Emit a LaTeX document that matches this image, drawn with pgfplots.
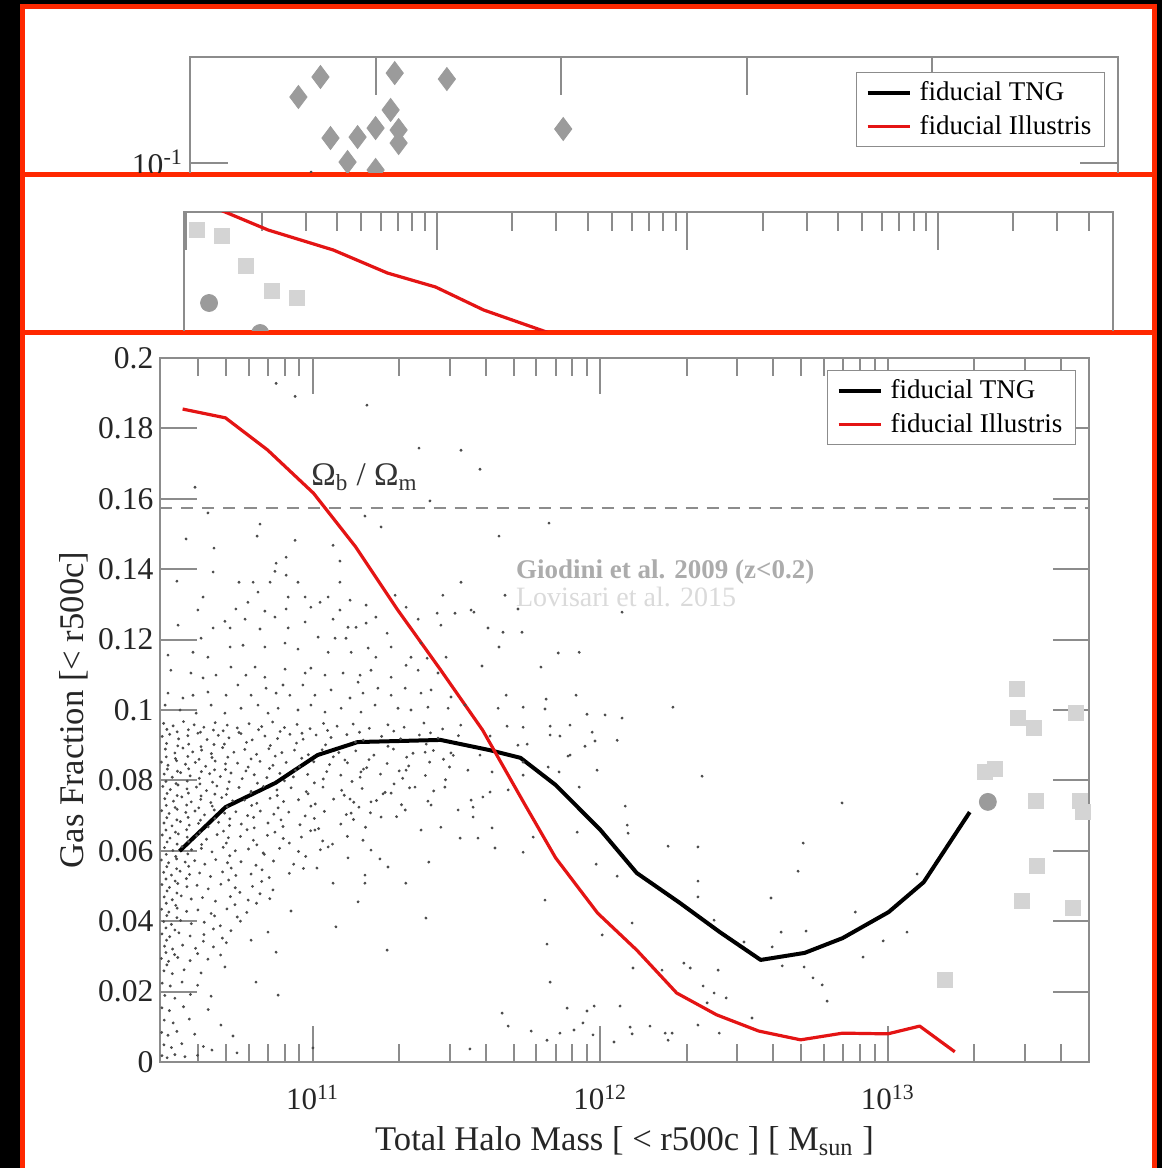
\documentclass[border=0pt]{standalone}
\usepackage{pgfplots}
\pgfplotsset{compat=1.18}
\usepackage{fontspec}
\setmainfont{Liberation Serif}
\definecolor{framered}{RGB}{255,40,0}
\definecolor{axisgray}{RGB}{140,140,140}
\definecolor{markgray}{RGB}{155,155,155}
\definecolor{sqgray}{RGB}{212,212,212}
\definecolor{giodini}{RGB}{172,172,172}
\definecolor{lovisari}{RGB}{218,218,218}
\definecolor{illred}{RGB}{228,20,20}
\pgfplotsset{
  refstyle/.style={
    scale only axis, anchor=north west,
    axis line style={axisgray, line width=1pt},
    tick style={axisgray, line width=1pt},
    tick label style={font=\fontsize{15.8}{18}\selectfont, text=black!85},
    label style={font=\fontsize{17.3}{20}\selectfont, text=black!85},
    legend style={draw=axisgray, line width=0.6pt, font=\fontsize{13.5}{17}\selectfont,
      inner xsep=4.5pt, inner ysep=2.5pt, row sep=2pt, cells={anchor=west}, text=black},
    legend image code/.code={\draw[##1] (0pt,0pt) -- (21pt,0pt); \path (23pt,0pt);},
  }
}
\begin{document}
\begin{tikzpicture}
\fill[black] (0pt,0pt) rectangle (581pt,-584pt);
\fill[framered] (10pt,-2pt) rectangle (578.5pt,-584pt);
\fill[white] (12.5pt,-4.5pt) rectangle (576pt,-86pt);
\fill[white] (12.5pt,-88.5pt) rectangle (576pt,-165pt);
\fill[white] (12.5pt,-167.5pt) rectangle (576pt,-584pt);

% ---------------- panel 1 ----------------
\begin{scope}
\clip (12.5pt,-4.5pt) rectangle (576pt,-86pt);
\begin{axis}[refstyle,
  at={(95pt,-28.5pt)}, width=464pt, height=178pt,
  xmin=10, xmax=15, ymode=log, ymin=0.01, ymax=0.2655,
  xtick={11,12,13,14}, xticklabels={},
  ytick={0.1}, yticklabels={10\textsuperscript{-1}}, yminorticks=false,
  major tick length=19pt,
  legend style={at={(0.986,0.958)}, anchor=north east},
]
\addplot[markgray, only marks, mark=diamond*, mark size=5.75pt, forget plot]
 coordinates {(10.584,0.1837)(10.703,0.2208)(11.103,0.2290)(11.384,0.2168)(11.081,0.1630)(11.000,0.1380)(10.903,0.1270)(10.757,0.1259)(11.124,0.1355)(11.124,0.1202)(10.849,0.1009)(11.000,0.0938)(12.011,0.1368)};
\addplot[black!70, only marks, mark=*, mark size=0.5pt, forget plot] coordinates {(10.652,0.0920)};
\addplot[illred, line width=1.6pt, forget plot] coordinates {(10.959,0.0871)(11.000,0.0946)(11.043,0.0871)};
\addlegendimage{black, line width=2pt}
\addlegendentry{fiducial TNG}
\addlegendimage{illred, line width=1.6pt}
\addlegendentry{fiducial Illustris}
\end{axis}
\end{scope}

% ---------------- panel 2 ----------------
\begin{scope}
\clip (12.5pt,-88.5pt) rectangle (576pt,-165pt);
\begin{axis}[refstyle,
  at={(92pt,-106pt)}, width=464.5pt, height=82pt,
  xmin=9.991, xmax=13.699, ymin=0, ymax=0.3814,
  xtick={10,11,12,13}, xticklabels={},
  minor xtick={10.301,10.477,10.602,10.699,10.778,10.845,10.903,10.954,11.301,11.477,11.602,11.699,11.778,11.845,11.903,11.954,12.301,12.477,12.602,12.699,12.778,12.845,12.903,12.954,13.301,13.477,13.602},
  ytick=\empty, minor ytick={0.2,0.3},
  major tick length=19pt, minor tick length=9.5pt,
]
\addplot[sqgray, only marks, mark=square*, mark size=3.75pt]
 coordinates {(10.043,0.3395)(10.143,0.3256)(10.239,0.2558)(10.343,0.1977)(10.443,0.1814)};
\addplot[markgray, only marks, mark=*, mark size=4.25pt]
 coordinates {(10.091,0.1698)(10.295,0.1000)};
\addplot[illred, line width=1.6pt] coordinates {(10.067,0.4020)(10.155,0.3814)(10.327,0.3395)(10.587,0.2930)(10.803,0.2395)(10.995,0.2070)(11.187,0.1535)(11.415,0.1070)(11.575,0.0744)};
\end{axis}
\end{scope}

% ---------------- panel 3 ----------------
\begin{scope}
\clip (12.5pt,-167.5pt) rectangle (576pt,-584pt);
\begin{axis}[refstyle,
  at={(80.25pt,-179pt)}, width=464pt, height=352pt,
  xmin=10.471, xmax=13.698, ymin=0, ymax=0.2,
  xtick={11,12,13}, xticklabels={10\textsuperscript{11},10\textsuperscript{12},10\textsuperscript{13}},
  x tick label style={yshift=-8pt, font=\fontsize{15.5}{18}\selectfont},
  minor xtick={10.602,10.699,10.778,10.845,10.903,10.954,11.301,11.477,11.602,11.699,11.778,11.845,11.903,11.954,12.301,12.477,12.602,12.699,12.778,12.845,12.903,12.954,13.301,13.477,13.602},
  ytick={0,0.02,0.04,0.06,0.08,0.1,0.12,0.14,0.16,0.18,0.2},
  yticklabels={0,0.02,0.04,0.06,0.08,0.1,0.12,0.14,0.16,0.18,0.2},
  major tick length=18pt, minor tick length=9pt,
  xlabel={Total Halo Mass [ < r500c ] [ M\textsubscript{sun} ]},
  ylabel={Gas Fraction [< r500c]},
  x label style={at={(axis description cs:0.5,-0.125)}, anchor=base},
  y label style={at={(axis description cs:-0.083,0.5)}, anchor=base},
  legend style={at={(0.9865,0.983)}, anchor=north east},
]
% simulated haloes (small dots)
\addplot[black!70, only marks, mark=*, mark size=0.5pt, forget plot] coordinates {
(10.873,0.1928)(10.939,0.1891)(11.189,0.1866)(11.370,0.1744)(11.516,0.1738)(10.591,0.1633)(11.408,0.1594)(10.636,0.1560)(10.817,0.1528)(11.182,0.1551)(11.238,0.1520)(10.560,0.1486)(10.807,0.1494)(10.657,0.1460)(10.939,0.1482)(11.071,0.1468)(10.908,0.1434)(10.873,0.1417)(11.095,0.1423)(10.654,0.1392)(10.869,0.1394)(10.528,0.1366)(10.744,0.1363)(10.793,0.1363)(10.852,0.1363)(10.908,0.1383)(10.949,0.1363)(11.095,0.1363)(11.516,0.1363)(11.453,0.1326)(10.619,0.1321)(10.810,0.1335)(10.775,0.1306)(10.915,0.1321)(10.974,0.1321)(11.026,0.1306)(11.054,0.1321)(11.130,0.1312)(11.287,0.1326)
(10.601,0.1284)(10.733,0.1287)(10.834,0.1281)(10.869,0.1264)(10.908,0.1287)(10.994,0.1292)(11.095,0.1284)(11.186,0.1298)(11.220,0.1264)(11.325,0.1292)(11.367,0.1258)(11.433,0.1275)(11.495,0.1275)(11.551,0.1284)(10.695,0.1252)(10.765,0.1258)(10.974,0.1250)(11.071,0.1258)(11.123,0.1235)(11.151,0.1235)(11.186,0.1247)(11.446,0.1241)(10.532,0.1241)(10.612,0.1204)(10.654,0.1233)(10.713,0.1233)(10.817,0.1230)(10.915,0.1233)(11.019,0.1207)(11.078,0.1204)(11.116,0.1204)(11.259,0.1218)(11.377,0.1190)
(10.497,0.1156)(10.584,0.1164)(10.636,0.1150)(10.713,0.1179)(10.758,0.1184)(10.834,0.1179)(10.904,0.1190)(10.949,0.1173)(11.054,0.1164)(11.134,0.1164)(11.193,0.1176)(11.220,0.1150)(11.273,0.1179)(11.342,0.1150)(11.398,0.1147)(11.464,0.1150)
(10.507,0.1113)(10.577,0.1105)(10.619,0.1091)(10.664,0.1099)(10.716,0.1122)(10.768,0.1099)(10.800,0.1122)(10.834,0.1093)(10.904,0.1116)(10.974,0.1105)(10.994,0.1119)(11.043,0.1099)(11.106,0.1105)(11.165,0.1099)(11.203,0.1113)(11.273,0.1093)(11.325,0.1127)(11.367,0.1113)(11.436,0.1105)
(10.497,0.1048)(10.549,0.1034)(10.584,0.1042)(10.636,0.1051)(10.699,0.1042)(10.740,0.1071)(10.786,0.1042)(10.838,0.1062)(10.873,0.1048)(10.897,0.1071)(10.921,0.1042)(10.966,0.1071)(11.008,0.1042)(11.064,0.1057)(11.130,0.1034)(11.158,0.1079)(11.175,0.1048)(11.227,0.1062)(11.273,0.1042)(11.322,0.1062)(11.377,0.1048)(11.412,0.1057)(11.481,0.1037)
(10.487,0.1014)(10.539,0.1000)(10.595,0.0991)(10.647,0.1014)(10.695,0.0991)(10.751,0.1005)(10.810,0.1014)(10.845,0.0991)(10.880,0.1005)(10.949,0.1000)(10.994,0.1014)(11.043,0.0994)(11.099,0.1005)(11.168,0.0994)(11.217,0.1014)(11.297,0.1005)(11.342,0.1000)(11.401,0.1008)(11.471,0.1005)(11.530,0.1014)
(11.582,0.1684)(11.822,0.1531)(11.648,0.1494)(11.669,0.1326)(11.714,0.1287)(12.076,0.1278)(11.561,0.1278)(11.610,0.1233)(11.662,0.1221)(11.728,0.1221)(11.648,0.1179)(11.854,0.1162)(11.927,0.1164)(11.589,0.1125)(11.794,0.1122)(11.673,0.1042)(11.812,0.1031)(11.916,0.1042)(11.732,0.1008)(11.808,0.1003)(12.253,0.1008)(11.645,0.1005)(11.954,0.0988)(12.017,0.0986)(12.076,0.0977)
(12.354,0.0812)(12.841,0.0736)(12.087,0.0727)(11.927,0.0781)(11.989,0.0829)(11.857,0.0824)(11.732,0.0815)(11.895,0.0872)(12.094,0.0673)(12.097,0.0650)(11.920,0.0653)(11.767,0.0639)(11.732,0.0596)(11.634,0.0608)(11.575,0.0636)(11.624,0.0665)(12.236,0.0613)(12.340,0.0611)(12.706,0.0622)(12.688,0.0542)(11.986,0.0562)(12.059,0.0528)(12.340,0.0514)(12.340,0.0469)(12.594,0.0466)(13.102,0.0534)(12.887,0.0426)(11.808,0.0460)(12.111,0.0395)(12.396,0.0403)(12.629,0.0369)(12.716,0.0372)(13.067,0.0369)(12.984,0.0344)(12.500,0.0341)(12.598,0.0327)(11.815,0.0335)(12.007,0.0361)(12.914,0.0298)(12.633,0.0273)(12.709,0.0270)(12.291,0.0281)(12.313,0.0267)(12.410,0.0261)(12.114,0.0267)(12.215,0.0261)(12.740,0.0239)(12.772,0.0219)(12.789,0.0173)(12.358,0.0216)(12.396,0.0196)(12.438,0.0182)(12.372,0.0168)(11.826,0.0227)(11.885,0.0153)(11.979,0.0159)(11.954,0.0145)(12.069,0.0159)(11.659,0.0139)(11.940,0.0111)(12.104,0.0099)(12.173,0.0102)(12.340,0.0105)(12.528,0.0125)(11.680,0.0102)(11.760,0.0088)(11.860,0.0082)(11.909,0.0091)(11.975,0.0077)(12.111,0.0080)(12.226,0.0082)(12.250,0.0082)(12.414,0.0082)(11.815,0.0062)(12.048,0.0057)(12.236,0.0062)
(11.592,0.0753)(11.617,0.0767)(11.558,0.0724)(11.676,0.0954)(11.732,0.0951)(11.826,0.0954)(11.895,0.0957)(11.826,0.0929)(11.860,0.0926)(11.972,0.0937)(11.982,0.0912)(11.947,0.0897)(12.059,0.0914)(11.714,0.0900)(11.746,0.0903)(11.617,0.0926)(11.888,0.0869)(11.582,0.0872)(11.819,0.0838)(11.732,0.0852)(11.680,0.0773)(11.624,0.0824)(11.558,0.0696)
(10.482,0.0962)(10.515,0.0955)(10.551,0.0967)(10.588,0.0958)(10.622,0.0951)(10.661,0.0964)(10.703,0.0957)(10.738,0.0949)(10.779,0.0961)(10.823,0.0953)(10.861,0.0966)(10.902,0.0950)(10.946,0.0959)(10.991,0.0947)(11.038,0.0962)(11.085,0.0954)(11.141,0.0960)(11.197,0.0948)(11.262,0.0958)(11.318,0.0951)(11.387,0.0963)(11.452,0.0946)(11.515,0.0957)
(10.477,0.0925)(10.503,0.0931)(10.534,0.0918)(10.566,0.0927)(10.601,0.0934)(10.633,0.0916)(10.672,0.0928)(10.709,0.0921)(10.751,0.0933)(10.790,0.0915)(10.834,0.0926)(10.878,0.0919)(10.921,0.0931)(10.967,0.0917)(11.012,0.0929)(11.064,0.0922)(11.119,0.0930)(11.176,0.0914)(11.240,0.0925)(11.306,0.0918)(11.371,0.0929)(11.436,0.0920)(11.507,0.0927)
(10.488,0.0889)(10.521,0.0878)(10.549,0.0892)(10.583,0.0881)(10.614,0.0886)(10.648,0.0876)(10.687,0.0893)(10.726,0.0880)(10.764,0.0888)(10.805,0.0874)(10.848,0.0890)(10.893,0.0879)(10.937,0.0886)(10.985,0.0873)(11.033,0.0887)(11.091,0.0879)(11.150,0.0884)(11.213,0.0872)(11.281,0.0889)(11.349,0.0877)(11.420,0.0885)(11.489,0.0871)
(10.474,0.0852)(10.497,0.0843)(10.527,0.0856)(10.558,0.0846)(10.592,0.0851)(10.628,0.0840)(10.661,0.0855)(10.697,0.0847)(10.739,0.0849)(10.776,0.0838)(10.817,0.0854)(10.862,0.0843)(10.908,0.0851)(10.954,0.0839)(11.004,0.0853)(11.059,0.0845)(11.121,0.0850)(11.188,0.0836)(11.259,0.0848)(11.334,0.0841)(11.407,0.0852)(11.476,0.0838)
(10.484,0.0818)(10.512,0.0809)(10.541,0.0822)(10.574,0.0813)(10.606,0.0806)(10.642,0.0819)(10.679,0.0811)(10.716,0.0821)(10.755,0.0805)(10.797,0.0816)(10.841,0.0808)(10.886,0.0820)(10.933,0.0810)(10.983,0.0817)(11.037,0.0804)(11.098,0.0815)(11.165,0.0809)(11.236,0.0818)(11.313,0.0806)(11.392,0.0814)(11.462,0.0802)
(10.479,0.0783)(10.505,0.0774)(10.532,0.0787)(10.563,0.0776)(10.596,0.0781)(10.631,0.0771)(10.667,0.0784)(10.704,0.0776)(10.744,0.0780)(10.786,0.0769)(10.829,0.0783)(10.876,0.0773)(10.925,0.0779)(10.978,0.0768)(11.036,0.0781)(11.101,0.0772)(11.172,0.0777)(11.252,0.0766)(11.337,0.0779)(11.421,0.0770)
(10.486,0.0748)(10.516,0.0741)(10.545,0.0753)(10.578,0.0739)(10.611,0.0746)(10.646,0.0737)(10.684,0.0751)(10.722,0.0742)(10.763,0.0744)(10.806,0.0735)(10.852,0.0749)(10.899,0.0740)(10.951,0.0745)(11.009,0.0733)(11.073,0.0747)(11.143,0.0738)(11.222,0.0743)(11.309,0.0731)(11.401,0.0741)
(10.475,0.0714)(10.501,0.0706)(10.529,0.0718)(10.559,0.0709)(10.591,0.0713)(10.624,0.0702)(10.658,0.0716)(10.694,0.0707)(10.733,0.0711)(10.774,0.0700)(10.818,0.0713)(10.865,0.0704)(10.917,0.0710)(10.974,0.0699)(11.041,0.0712)(11.117,0.0703)(11.201,0.0708)(11.292,0.0697)
(10.483,0.0679)(10.511,0.0671)(10.540,0.0683)(10.571,0.0673)(10.603,0.0678)(10.637,0.0668)(10.673,0.0681)(10.711,0.0672)(10.752,0.0676)(10.797,0.0665)(10.845,0.0679)(10.897,0.0669)(10.956,0.0674)(11.021,0.0663)(11.098,0.0676)(11.184,0.0667)
(10.477,0.0645)(10.504,0.0636)(10.533,0.0648)(10.564,0.0639)(10.597,0.0643)(10.631,0.0633)(10.668,0.0646)(10.707,0.0637)(10.749,0.0641)(10.794,0.0630)(10.843,0.0644)(10.898,0.0635)(10.961,0.0639)(11.035,0.0628)(11.121,0.0641)
(10.485,0.0609)(10.514,0.0601)(10.546,0.0612)(10.579,0.0603)(10.613,0.0607)(10.650,0.0597)(10.689,0.0610)(10.731,0.0600)(10.777,0.0605)(10.828,0.0594)(10.885,0.0607)(10.951,0.0598)(11.027,0.0603)
(10.474,0.0574)(10.499,0.0566)(10.527,0.0577)(10.557,0.0568)(10.590,0.0572)(10.625,0.0562)(10.663,0.0575)(10.704,0.0566)(10.751,0.0569)(10.803,0.0559)(10.864,0.0571)(10.934,0.0562)
(10.482,0.0539)(10.509,0.0531)(10.539,0.0542)(10.572,0.0533)(10.607,0.0537)(10.645,0.0527)(10.687,0.0540)(10.733,0.0530)(10.786,0.0534)(10.849,0.0524)(10.919,0.0536)
(10.476,0.0504)(10.502,0.0496)(10.531,0.0507)(10.563,0.0498)(10.598,0.0502)(10.637,0.0492)(10.681,0.0505)(10.731,0.0495)(10.791,0.0499)(10.862,0.0489)
(10.484,0.0469)(10.512,0.0461)(10.543,0.0472)(10.578,0.0463)(10.617,0.0467)(10.662,0.0457)(10.714,0.0470)(10.776,0.0460)(10.851,0.0464)
(10.475,0.0434)(10.500,0.0426)(10.529,0.0437)(10.562,0.0428)(10.601,0.0432)(10.647,0.0422)(10.702,0.0435)(10.771,0.0425)
(10.482,0.0399)(10.509,0.0391)(10.541,0.0402)(10.578,0.0393)(10.623,0.0397)(10.679,0.0387)(10.749,0.0400)
(10.476,0.0364)(10.503,0.0356)(10.535,0.0367)(10.574,0.0358)(10.622,0.0362)(10.686,0.0352)
(10.485,0.0329)(10.513,0.0321)(10.548,0.0332)(10.593,0.0323)(10.655,0.0327)
(10.474,0.0294)(10.499,0.0286)(10.531,0.0297)(10.574,0.0288)(10.636,0.0292)
(10.483,0.0259)(10.512,0.0251)(10.553,0.0262)(10.612,0.0253)
(10.477,0.0224)(10.505,0.0216)(10.546,0.0227)(10.600,0.0218)
(10.486,0.0189)(10.521,0.0181)(10.575,0.0192)
(10.476,0.0154)(10.502,0.0146)(10.551,0.0157)(10.637,0.0149)
(10.484,0.0119)(10.515,0.0111)(10.571,0.0122)
(10.475,0.0084)(10.497,0.0076)(10.528,0.0087)(10.590,0.0079)
(10.483,0.0049)(10.509,0.0041)(10.545,0.0052)(10.620,0.0044)
(10.476,0.0018)(10.494,0.0012)(10.521,0.0021)(10.556,0.0015)(10.600,0.0019)
(10.493,0.0945)(10.529,0.0938)(10.568,0.0944)(10.610,0.0937)(10.655,0.0943)
(10.492,0.0905)(10.531,0.0898)(10.569,0.0903)(10.612,0.0896)(10.657,0.0902)
(10.491,0.0867)(10.523,0.0862)(10.566,0.0868)(10.605,0.0860)(10.650,0.0865)
(10.495,0.0832)(10.530,0.0826)(10.569,0.0833)(10.613,0.0825)(10.659,0.0830)
(10.490,0.0797)(10.525,0.0791)(10.564,0.0798)(10.608,0.0790)(10.652,0.0795)
(10.494,0.0763)(10.529,0.0757)(10.568,0.0764)(10.612,0.0756)(10.660,0.0761)
(10.491,0.0729)(10.522,0.0723)(10.562,0.0730)(10.604,0.0722)(10.651,0.0727)
(10.493,0.0694)(10.528,0.0688)(10.567,0.0695)(10.610,0.0687)(10.660,0.0692)
(10.490,0.0659)(10.523,0.0653)(10.562,0.0660)(10.608,0.0652)
(10.494,0.0625)(10.529,0.0619)(10.569,0.0626)(10.614,0.0618)
(10.491,0.0590)(10.524,0.0584)(10.566,0.0591)
(10.493,0.0555)(10.527,0.0549)(10.569,0.0556)
(10.490,0.0520)(10.522,0.0514)(10.561,0.0521)
(10.494,0.0486)(10.528,0.0480)(10.491,0.0451)(10.524,0.0445)(10.493,0.0416)(10.528,0.0410)
(10.490,0.0381)(10.521,0.0375)(10.492,0.0346)(10.490,0.0311)(10.520,0.0305)(10.493,0.0276)
(10.689,0.0941)(10.744,0.0936)(10.812,0.0944)(10.887,0.0939)(10.963,0.0934)(11.052,0.0942)(11.163,0.0937)(11.282,0.0940)(11.410,0.0935)
(10.693,0.0903)(10.770,0.0908)(10.853,0.0899)(10.944,0.0906)(11.045,0.0901)(11.149,0.0909)(11.262,0.0897)(11.395,0.0903)
(10.705,0.0866)(10.786,0.0861)(10.870,0.0869)(10.962,0.0863)(11.072,0.0867)(11.196,0.0859)(11.327,0.0866)(11.455,0.0860)
(10.697,0.0831)(10.768,0.0827)(10.850,0.0834)(10.940,0.0829)(11.049,0.0825)(11.177,0.0832)(11.301,0.0827)
(10.710,0.0796)(10.808,0.0792)(10.902,0.0799)(11.006,0.0793)(11.137,0.0797)(11.283,0.0790)
(10.700,0.0760)(10.785,0.0764)(10.877,0.0757)(10.984,0.0762)(11.110,0.0758)(11.245,0.0762)
(10.703,0.0725)(10.788,0.0729)(10.880,0.0722)(10.994,0.0727)(11.161,0.0724)
(10.712,0.0691)(10.795,0.0695)(10.890,0.0688)(11.006,0.0692)(11.142,0.0689)
(10.690,0.0656)(10.772,0.0660)(10.869,0.0653)(10.993,0.0657)
(10.700,0.0622)(10.806,0.0617)(10.919,0.0622)(11.069,0.0619)
(10.712,0.0586)(10.832,0.0590)(10.976,0.0584)(10.717,0.0551)(10.824,0.0546)(10.968,0.0550)
(10.708,0.0517)(10.823,0.0513)(10.747,0.0482)(10.817,0.0478)(10.730,0.0447)(10.805,0.0451)
(10.738,0.0412)(10.659,0.0415)(10.655,0.0378)(10.716,0.0373)(10.620,0.0343)(10.700,0.0339)(10.600,0.0308)(10.680,0.0304)
(11.324,0.0508)(11.158,0.0455)(11.081,0.0384)(11.394,0.0409)(11.259,0.0318)(10.880,0.0190)(10.803,0.0227)(10.695,0.0270)(10.681,0.0105)(10.723,0.0074)(10.647,0.0187)(10.845,0.0369)(10.873,0.0312)(10.786,0.0346)(10.925,0.0429)(11.182,0.0531)(11.182,0.0508)(11.071,0.0508)(11.015,0.0551)(11.123,0.0580)(11.234,0.0577)(11.262,0.0554)(11.404,0.0568)(11.547,0.0037)(10.650,0.0034)(10.737,0.0026)(11.001,0.0040)
(11.112,0.0858)(11.168,0.0824)(11.130,0.0747)(11.203,0.0739)(11.134,0.0707)(11.238,0.0696)(11.322,0.0716)(11.412,0.0730)(11.506,0.0716)(11.446,0.0667)(11.377,0.0659)(11.513,0.0636)(11.175,0.0630)(11.203,0.0602)(11.054,0.0611)(11.008,0.0659)(11.325,0.0829)(11.391,0.0880)(11.481,0.0878)(11.540,0.0829)(11.356,0.0781)(11.460,0.0781)(11.551,0.0744)(11.273,0.0764)
};
% baryon fraction
\addplot[axisgray, line width=1pt, dash pattern=on 6pt off 4.5pt, forget plot] coordinates {(10.471,0.1575)(13.698,0.1575)};
% observations
\addplot[sqgray, only marks, mark=square*, mark size=3.75pt, forget plot]
 coordinates {(13.198,0.0233)(13.337,0.0824)(13.372,0.0832)(13.449,0.1060)(13.452,0.0977)(13.508,0.0949)(13.654,0.0991)(13.515,0.0741)(13.668,0.0741)(13.678,0.0710)(13.518,0.0557)(13.466,0.0457)(13.643,0.0438)};
\addplot[markgray, only marks, mark=*, mark size=4.25pt, forget plot]
 coordinates {(13.348,0.0739)};
% simulations
\addplot[black, line width=2pt, line join=round] coordinates {(10.537,0.0599)(10.697,0.0724)(10.871,0.0793)(11.017,0.0872)(11.157,0.0909)(11.303,0.0912)(11.445,0.0915)(11.616,0.0886)(11.723,0.0864)(11.845,0.0787)(12.000,0.0660)(12.127,0.0537)(12.277,0.0452)(12.416,0.0369)(12.558,0.0290)(12.711,0.0310)(12.843,0.0352)(13.003,0.0426)(13.125,0.0511)(13.285,0.0710)};
\addlegendentry{fiducial TNG}
\addplot[illred, line width=1.6pt, line join=round] coordinates {(10.548,0.1855)(10.697,0.1830)(10.843,0.1739)(11.003,0.1616)(11.150,0.1463)(11.296,0.1284)(11.445,0.1114)(11.591,0.0943)(11.737,0.0733)(11.845,0.0580)(11.991,0.0423)(12.127,0.0318)(12.266,0.0196)(12.405,0.0134)(12.551,0.0088)(12.697,0.0063)(12.843,0.0082)(13.000,0.0080)(13.111,0.0102)(13.233,0.0029)};
\addlegendentry{fiducial Illustris}
\node[anchor=base west, font=\fontsize{16.5}{19}\selectfont, text=black!80] at (axis cs:10.971,0.1639) {Ω\textsubscript{b} / Ω\textsubscript{m}};
\node[anchor=base west, font=\bfseries\fontsize{13.5}{16}\selectfont, text=giodini] at (axis cs:11.683,0.1375) {Giodini et al. 2009 (z<0.2)};
\node[anchor=base west, font=\fontsize{14}{16}\selectfont, text=lovisari] at (axis cs:11.683,0.1295) {Lovisari et al. 2015};
\end{axis}
\end{scope}
\pgfresetboundingbox
\useasboundingbox (0pt,0pt) rectangle (581pt,-584pt);
\end{tikzpicture}
\end{document}
